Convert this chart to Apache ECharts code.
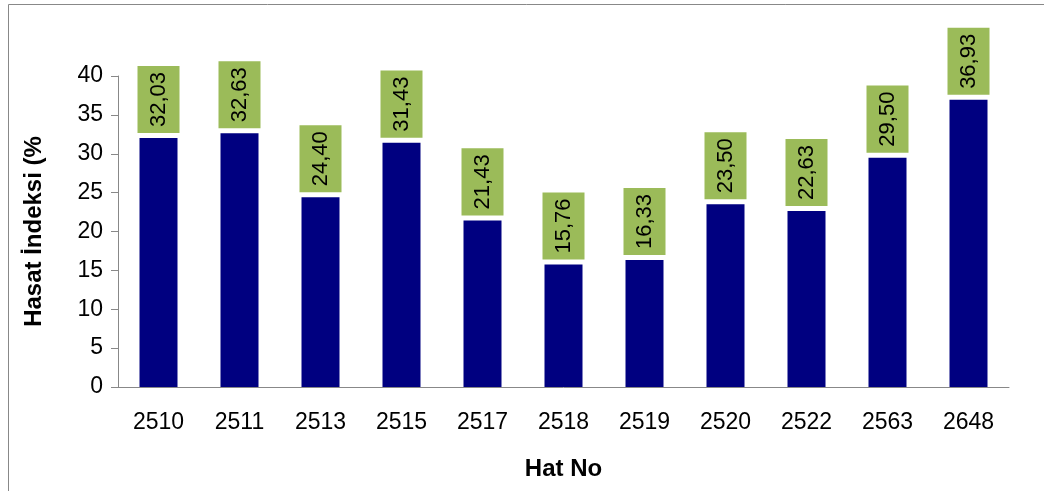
<!DOCTYPE html>
<html><head><meta charset="utf-8">
<script src="https://cdn.jsdelivr.net/npm/echarts@6/dist/echarts.min.js"></script>
<style>html,body{margin:0;padding:0;background:#fff}#c{width:1044px;height:491px}</style>
</head><body><div id="c"></div>
<script>
const categories = ['2510','2511','2513','2515','2517','2518','2519','2520','2522','2563','2648'];
const values = [32.03, 32.63, 24.40, 31.43, 21.43, 15.76, 16.33, 23.50, 22.63, 29.50, 36.93];
const yTicks = [0, 5, 10, 15, 20, 25, 30, 35, 40];

const chart = echarts.init(document.getElementById('c'));
const font = 'Liberation Sans, Arial, sans-serif';
chart.setOption({
  animation: false,
  graphic: [{type:'rect', shape:{x:8.5,y:4.5,width:1100,height:600}, style:{fill:'none', stroke:'#888', lineWidth:1}}],
  grid: {left:118, right:35, top:76, bottom:104},
  xAxis: {
    type:'category', data:categories,
    name:'Hat No', nameLocation:'middle', nameGap:70,
    nameTextStyle:{fontFamily:font, fontSize:24, fontWeight:'bold', color:'#000'},
    axisLine:{lineStyle:{color:'#888'}}, axisTick:{show:false},
    axisLabel:{fontFamily:font, fontSize:23, color:'#000', margin:24}
  },
  yAxis: {
    type:'value', min:yTicks[0], max:yTicks[yTicks.length-1], interval:5,
    name:'Hasat İndeksi (%', nameLocation:'middle', nameGap:72, nameRotate:90,
    nameTextStyle:{fontFamily:font, fontSize:24, fontWeight:'bold', color:'#000'},
    axisLine:{show:true, lineStyle:{color:'#888'}},
    axisTick:{show:true, length:7, lineStyle:{color:'#888'}},
    splitLine:{show:false},
    axisLabel:{fontFamily:font, fontSize:23, color:'#000', margin:15}
  },
  series: [{
    type:'bar', data:values, barWidth:38,
    itemStyle:{color:'#000080'},
    label:{
      show:true, position:'top', distance:5, rotate:90, align:'left', verticalAlign:'middle',
      formatter: p => p.value.toFixed(2).replace('.', ','),
      fontFamily:font, fontSize:22, lineHeight:22, color:'#000',
      backgroundColor:'#9BBB59', padding:[10,6,10,6]
    }
  }]
});
</script></body></html>
